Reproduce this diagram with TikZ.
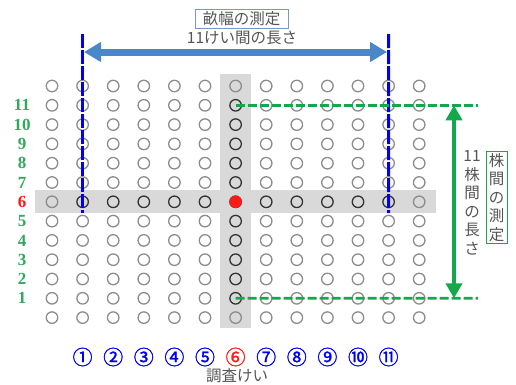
\documentclass[tikz,border=0pt]{standalone}
\usepackage{fontspec}
\setmainfont{Liberation Serif}
\newfontfamily\jp{Noto Sans CJK JP}
\newfontfamily\jpb[FakeBold=1.2]{Noto Sans CJK JP}
\usetikzlibrary{arrows.meta}
\definecolor{cgray}{HTML}{8C8C8C}
\definecolor{cdark}{HTML}{333333}
\definecolor{bandgray}{HTML}{D9D9D9}
\definecolor{lblue}{HTML}{4A86C8}
\definecolor{dblue}{HTML}{0000F0}
\definecolor{mgreen}{HTML}{14A84A}
\definecolor{numgreen}{HTML}{2EAA5A}
\definecolor{txtgray}{HTML}{555555}
\definecolor{boxblue}{HTML}{7A96C2}
\definecolor{cred}{HTML}{FF1A1A}
\tikzset{
  plant/.style={circle,draw=cgray,line width=1.3pt,minimum size=11.5pt,inner sep=0pt},
  plantdark/.style={plant,draw=cdark},
  plantred/.style={circle,fill=cred,minimum size=12.5pt,inner sep=0pt},
  rowlbl/.style={font=\fontsize{17}{17}\selectfont\bfseries,text=numgreen},
  collbl/.style={font=\jpb\fontsize{20}{20}\selectfont,text=dblue},
  blueline/.style={dblue,line width=3pt,dash pattern=on 14pt off 2pt},
  greenline/.style={mgreen,line width=2.8pt,dash pattern=on 9pt off 3pt},
  jptxt/.style={font=\jp\fontsize{15.5}{16}\selectfont,text=txtgray},
}
\begin{document}
\begin{tikzpicture}[x=1pt,y=-1pt]
\useasboundingbox (0,0) rectangle (516,384);
% bands
\fill[bandgray] (35,190) rectangle (436,213);
\fill[bandgray] (220,74) rectangle (251,328);
% grid
\foreach \i in {0,...,12}{
  \foreach \j in {0,...,12}{
    \pgfmathsetmacro{\xx}{52+30.6*\i}
    \pgfmathsetmacro{\yy}{86+19.3*\j}
    \pgfmathtruncatemacro{\isdark}{((\j==6 && \i>0 && \i<12) || (\i==6 && \j>0 && \j<12)) ? 1 : 0}
    \ifnum\isdark=1
      \node[plantdark] (c-\i-\j) at (\xx,\yy) {};
    \else
      \node[plant] (c-\i-\j) at (\xx,\yy) {};
    \fi
  }
}
\node[plantred] (center) at (c-6-6) {};
% row labels
\foreach \j/\n in {1/11,2/10,3/9,4/8,5/7,7/5,8/4,9/3,10/2,11/1}{
  \pgfmathsetmacro{\yy}{86+19.3*\j}
  \node[rowlbl] (r\n) at (22,\yy) {\n};
}
\node[rowlbl,text=cred] (r6) at (22,201.8) {6};
% column labels
\foreach \i/\s in {1/①,2/②,3/③,4/④,5/⑤,7/⑦,8/⑧,9/⑨,10/⑩,11/⑪}{
  \pgfmathsetmacro{\xx}{52+30.6*\i}
  \node[collbl] (k\i) at (\xx,357) {\s};
}
\node[collbl,text=cred] (k6) at (235.6,357) {⑥};
\node[jptxt] (survey) at (237,376) {調査けい};
% blue lines
\coordinate (bt1) at (82.6,34);
\coordinate (bt2) at (388.6,34);
\draw[blueline] (bt1) -- ([yshift=-5pt]c-1-6.south);
\draw[blueline] (bt2) -- ([yshift=-5pt]c-11-6.south);
% blue arrow
\coordinate (ba1) at (84,52);
\coordinate (ba2) at (387,52);
\draw[lblue,line width=7pt,{Triangle[length=17pt,width=19pt]}-{Triangle[length=17pt,width=19pt]}] (ba1) -- (ba2);
\node[jptxt] (wlen) at (242,38) {11けい間の長さ};
\node[jptxt,draw=boxblue,line width=1pt,inner sep=1pt,minimum width=93pt,minimum height=19pt] (wbox) at (241.5,18.5) {畝幅の測定};
% green lines
\coordinate (ge1) at (478,105.3);
\coordinate (ge2) at (478,298.3);
\draw[greenline] (c-6-1.center) -- (ge1);
\draw[greenline] (c-6-11.center) -- (ge2);
\coordinate (ga1) at (454,105.3);
\coordinate (ga2) at (454,298.3);
\draw[mgreen,line width=4pt,{Triangle[length=15pt,width=16pt]}-{Triangle[length=15pt,width=16pt]}] (ga1) -- (ga2);
\node[jptxt,align=center,inner sep=0pt] (hlen) at (472,203) {11\\[2.5pt]株\\[2.5pt]間\\[2.5pt]の\\[2.5pt]長\\[2.5pt]さ};
\node[jptxt,draw=mgreen,line width=1pt,align=center,inner sep=2pt,minimum width=21pt] (hbox) at (496.5,197.5) {株\\[2.5pt]間\\[2.5pt]の\\[2.5pt]測\\[2.5pt]定};
\end{tikzpicture}
\end{document}
